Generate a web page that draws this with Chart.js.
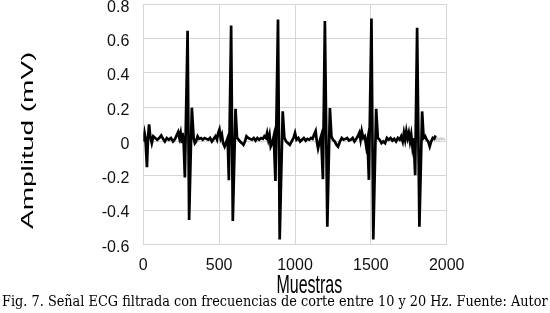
<!DOCTYPE html>
<html>
<head>
<meta charset="utf-8">
<script src="https://cdn.jsdelivr.net/npm/chart.js@4.4.1/dist/chart.umd.min.js"></script>
<style>
  html, body { margin: 0; padding: 0; background: #fff; }
  #wrap { position: relative; width: 550px; height: 313px; overflow: hidden; }
  #caption {
    position: absolute; left: 2px; top: 292px; white-space: nowrap;
    font-family: "DejaVu Serif", serif; font-size: 13px; color: #000;
    transform-origin: 0 0;
  }
</style>
</head>
<body>
<div id="wrap">
  <canvas id="ecgChart" width="550" height="313"></canvas>
  <div id="caption">Fig. 7. Señal ECG filtrada con frecuencias de corte entre 10 y 20 Hz. Fuente: Autor</div>
</div>
<script>
// señal ECG filtrada
const muestras = [
  0, 8, 14, 24, 31, 38, 46, 56, 66, 78, 92, 105, 118, 130, 142, 155, 168, 182, 196, 210,
  222, 230, 238, 246, 254, 258, 266, 274, 292, 302, 320, 332, 340, 348, 358, 368, 380, 392,
  404, 416, 428, 440, 452, 464, 476, 486, 494, 502, 510, 518, 526, 536, 548, 556, 564, 579,
  590, 608, 618, 628, 638, 650, 660, 670, 680, 692, 704, 716, 728, 740, 752, 764, 776, 788,
  798, 808, 816, 824, 832, 840, 850, 860, 871, 888, 899, 919, 930, 942, 954, 966, 978, 990,
  1000, 1010, 1022, 1034, 1046, 1058, 1070, 1082, 1094, 1106, 1116, 1126, 1136, 1144, 1152,
  1162, 1172, 1184, 1197, 1213, 1230, 1240, 1250, 1262, 1274, 1284, 1296, 1308, 1320, 1332,
  1344, 1356, 1368, 1380, 1392, 1404, 1414, 1424, 1432, 1440, 1450, 1460, 1470, 1478, 1487,
  1504, 1516, 1535, 1546, 1558, 1570, 1582, 1594, 1606, 1618, 1630, 1642, 1654, 1666, 1678,
  1690, 1700, 1710, 1718, 1726, 1734, 1742, 1750, 1758, 1766, 1774, 1782, 1792, 1805, 1820,
  1838, 1848, 1858, 1868, 1878, 1888, 1898, 1908, 1918, 1926
];
const amplitud = [
  0.0, 0.05, 0.02, -0.15, 0.02, 0.10, 0.03, -0.01, 0.03, 0.02, 0.01, 0.02, 0.035, 0.015, 0.0, 0.02, 0.01, 0.02, 0.0, 0.015,
  0.04, 0.055, 0.02, 0.05, -0.01, 0.05, 0.0, -0.21, 0.645, -0.458, 0.197, 0.02, -0.01, 0.0, 0.03, 0.015, 0.02, 0.01,
  0.02, 0.015, 0.01, 0.02, 0.0, 0.015, 0.03, 0.01, 0.05, 0.07, 0.02, 0.04, -0.01, -0.03, 0.0, 0.02, -0.226, 0.676,
  -0.464, 0.19, 0.02, 0.01, 0.0, -0.01, -0.02, 0.0, 0.03, 0.02, 0.015, 0.01, 0.02, 0.005, 0.02, 0.01, 0.02, 0.015,
  0.03, 0.02, 0.05, 0.01, 0.04, -0.03, -0.01, 0.03, -0.23, 0.711, -0.572, 0.176, 0.02, 0.0, -0.01, -0.02, 0.0, 0.02,
  0.05, 0.01, 0.02, 0.0, 0.01, 0.02, 0.005, 0.015, 0.01, 0.02, 0.015, 0.04, 0.06, 0.0, -0.04,
  0.0, 0.03, -0.22, 0.703, -0.497, 0.195, 0.03, 0.01, 0.0, -0.02, -0.03, 0.0, 0.02, 0.01, 0.015,
  0.02, 0.005, 0.01, 0.02, 0.0, 0.015, 0.03, 0.05, 0.01, 0.06, 0.02, 0.03, -0.03, 0.01, -0.224,
  0.717, -0.572, 0.19, 0.02, 0.01, -0.01, 0.0, -0.01, 0.02, 0.01, 0.02, 0.005, 0.015, 0.0, 0.02,
  0.01, 0.03, 0.0, 0.05, 0.01, 0.06, 0.02, 0.05, 0.0, 0.04, -0.03, 0.02, -0.197, 0.663, -0.497,
  0.175, 0.02, 0.03, 0.01, 0.0, -0.03, 0.0, 0.02, 0.015, 0.035
];
// tramo final gris claro
const colaMuestras = [1926, 1934, 1942, 1950, 1958, 1966, 1974, 1982, 1990];
const colaAmplitud = [0.035, 0.01, 0.02, 0.005, 0.02, 0.01, 0.02, 0.01, 0.015];

const xTicks = [0, 500, 1000, 1500, 2000];
const yTicks = [-0.6, -0.4, -0.2, 0, 0.2, 0.4, 0.6, 0.8];

const gridColor = '#d6d6d6';

// titulos de ejes estirados como en la figura original
const axisTitles = {
  id: 'axisTitles',
  afterDraw(chart) {
    const c = chart.ctx;
    const area = chart.chartArea;
    c.save();
    c.fillStyle = '#000';
    c.font = '16px "Liberation Sans", Arial, sans-serif';
    c.textAlign = 'center';
    c.textBaseline = 'alphabetic';
    c.save();
    c.translate(area.left + 166, 293);
    c.scale(1, 1.6);
    c.fillText('Muestras', 0, 0);
    c.restore();
    c.save();
    c.translate(32.5, (area.top + area.bottom) / 2 + 16);
    c.rotate(-Math.PI / 2);
    c.scale(1.75, 1);
    c.fillText('Amplitud (mV)', 0, 0);
    c.restore();
    c.restore();
  }
};

const ctx = document.getElementById('ecgChart').getContext('2d');
const ecgChart = new Chart(ctx, {
  type: 'line',
  data: {
    datasets: [{
      label: 'ECG',
      data: muestras.map((m, i) => ({ x: m, y: amplitud[i] })),
      borderColor: '#000',
      borderWidth: 2.7,
      pointRadius: 0,
      tension: 0
    }, {
      label: 'cola',
      data: colaMuestras.map((m, i) => ({ x: m, y: colaAmplitud[i] })),
      borderColor: '#cfcfcf',
      borderWidth: 1.5,
      pointRadius: 0,
      tension: 0
    }]
  },
  options: {
    responsive: false,
    animation: false,
    layout: { padding: { left: 0, right: 103.3, top: 4.3, bottom: 0 } },
    plugins: {
      legend: { display: false },
      title: { display: false },
      tooltip: { enabled: false }
    },
    scales: {
      x: {
        type: 'linear',
        min: 0,
        max: 2000,
        afterBuildTicks: s => { s.ticks = xTicks.map(v => ({ value: v })); },
        afterFit: s => { s.height = 68.7; s.paddingLeft = 0; s.paddingRight = 0; },
        grid: { color: gridColor, drawTicks: false },
        border: { color: gridColor },
        ticks: {
          padding: 12,
          color: '#111',
          font: { family: '"Liberation Sans", Arial, sans-serif', size: 16 },
          maxRotation: 0,
          callback: v => String(v)
        }
      },
      y: {
        min: -0.6,
        max: 0.8,
        afterBuildTicks: s => { s.ticks = yTicks.map(v => ({ value: v })); },
        afterFit: s => { s.width = 143.3; s.paddingTop = 0; s.paddingBottom = 0; },
        grid: { color: gridColor, drawTicks: false },
        border: { color: gridColor },
        ticks: {
          padding: 14,
          labelOffset: 3,
          color: '#111',
          font: { family: '"Liberation Sans", Arial, sans-serif', size: 16 },
          callback: v => String(Number(v.toFixed(1)))
        }
      }
    }
  },
  plugins: [axisTitles]
});

// ajustar pie de figura al ancho de la imagen
const cap = document.getElementById('caption');
const w = cap.offsetWidth;
cap.style.transform = 'scale(' + (546 / w) + ', 1.15)';
</script>
</body>
</html>
